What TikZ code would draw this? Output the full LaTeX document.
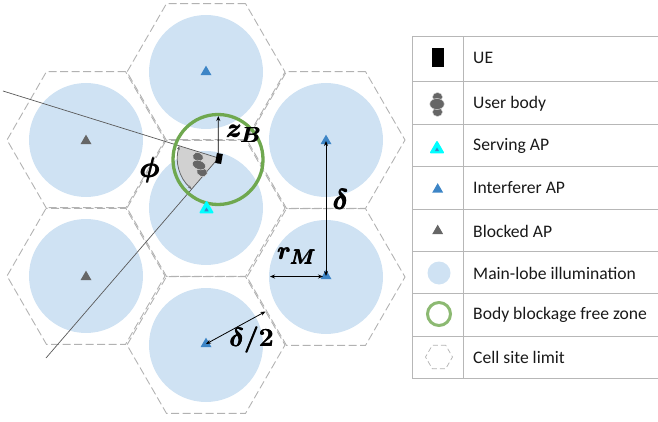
\documentclass[tikz,border=0pt]{standalone}
\usepackage{amsmath}
\usepackage{fontspec}
\setmainfont{Carlito}
\usetikzlibrary{shapes.geometric,arrows.meta,calc}
\definecolor{lobe}{HTML}{CFE2F3}
\definecolor{zone}{HTML}{6FA84F}
\definecolor{apblue}{HTML}{3D85C6}
\definecolor{apgray}{HTML}{666666}
\definecolor{legline}{HTML}{B7B7B7}
\definecolor{servecyan}{HTML}{00FFFF}
\tikzset{
 x=1pt,y=-1pt,
 cell/.style={regular polygon,regular polygon sides=6,minimum size=158pt,inner sep=0pt,outer sep=0pt,draw=black!30,line width=0.9pt,dash pattern=on 8pt off 3.5pt},
 lobedisc/.style={circle,fill=lobe,minimum size=114pt,inner sep=0pt,outer sep=0pt},
 tri/.style={regular polygon,regular polygon sides=3,inner sep=0pt,outer sep=0pt,minimum size=12.7pt},
 interf/.style={tri,fill=apblue},
 blocked/.style={tri,fill=apgray},
 serving/.style={tri,fill=servecyan,draw=servecyan,line width=1.8pt,line join=round,minimum size=14pt},
 servingcore/.style={tri,fill=apblue,minimum size=5pt},
 ue/.style={rectangle,fill=black,inner sep=0pt,outer sep=0pt},
 bodypart/.style={ellipse,fill=apgray,draw=black!15,line width=0.5pt,inner sep=0pt,outer sep=0pt},
 dim/.style={{Stealth[length=5pt,width=4pt]}-{Stealth[length=5pt,width=4pt]},line width=0.8pt,black},
 ray/.style={line width=0.7pt,black!65},
 legrule/.style={legline,line width=1pt},
 legtext/.style={anchor=west,font=\fontsize{17.6}{20}\selectfont,inner sep=0pt,text=black!90},
 mathlabel/.style={inner sep=0pt,font=\fontsize{24.88}{27}\selectfont},
}
\newcommand{\heavy}[2][1.12]{\scalebox{#1}{\pmb{$\boldsymbol{#2}$}}}
\begin{document}
\begin{tikzpicture}
\useasboundingbox (0,0) rectangle (658,422);
% cells
\foreach \n/\px/\py in {ca/206/345,cb/326/277,cc/326/140,cd/206/72,ce/206/208,cf/86/140,cg/86/276}{
  \node[lobedisc] (d\n) at (\px,\py) {};
}
\foreach \n/\px/\py in {ca/206/345,cb/326/277,cc/326/140,cd/206/72,ce/206/208,cf/86/140,cg/86/276}{
  \node[cell] (h\n) at (\px,\py) {};
}
% UE wedge
\coordinate (uept) at (218.5,158);
\coordinate (rayA) at (3,91);
\coordinate (rayB) at (46,358);
\fill[black!18] (uept) -- ($(uept)!41pt!(rayA)$) arc[start angle=197.3,end angle=130.8,radius=41] -- cycle;
\draw[black!60,line width=0.8pt,{Stealth[length=4pt,width=3pt]}-{Stealth[length=4pt,width=3pt]}] ($(uept)!41pt!(rayA)$) arc[start angle=197.3,end angle=130.8,radius=41];
\draw[ray] (rayA) -- (uept);
\draw[ray] (rayB) -- (uept);
% body
\node[bodypart,minimum width=11pt,minimum height=9pt,rotate=-20] (b1) at (198,157) {};
\node[bodypart,minimum width=11pt,minimum height=9pt,rotate=-20] (b2) at (202,172) {};
\node[bodypart,minimum width=14pt,minimum height=9pt,rotate=-20] (b3) at (199,165) {};
% UE
\node[ue,minimum width=6pt,minimum height=10pt,rotate=-10] (uenode) at (219,158.5) {};
% zone
\node[circle,draw=zone,line width=3.3pt,minimum size=90pt,inner sep=0pt] (zonec) at (218,159.5) {};
\coordinate (ztop) at (218.3,116);
\draw[-{Stealth[length=5pt,width=4pt]},line width=0.8pt] (uenode.south) -- (ztop);
% APs
\node[interf] (ap1) at (206,344) {};
\node[interf] (ap2) at (326,276) {};
\node[interf] (ap3) at (326,141) {};
\node[interf] (ap4) at (206,72) {};
\node[serving] (ap5) at (206.5,209) {};
\node[servingcore] at (206.5,210) {};
\node[blocked] (ap6) at (86,141) {};
\node[blocked] (ap7) at (86,277) {};
% dims
\coordinate (dl) at (270,276.5);
\coordinate (de) at (265.5,311.5);
\coordinate (dr) at (323,276.5);
\draw[dim] (ap3.center) -- (ap2.center);
\draw[dim] (dl) -- (dr);
\draw[dim] (ap1.center) -- (de);
% labels
\node[mathlabel] (lz) at (244,134) {\heavy[1.05]{z_{B}}};
\node[mathlabel] (lp) at (150,170) {\heavy{\phi}};
\node[mathlabel] (ld) at (341,199) {\heavy{\delta}};
\node[mathlabel] (lr) at (297,256) {\heavy[0.98]{r_{M}}};
\node[mathlabel] (ldh) at (252,340) {\heavy[1.05]{\delta/2}};
% legend
\draw[legrule] (412,37) rectangle (658,378);
\draw[legrule] (463,37) -- (463,378);
\foreach \yy in {82,125,167,209,251,293,336}{\draw[legrule] (412,\yy) -- (658,\yy);}
\node[ue,minimum width=12pt,minimum height=18.5pt] (lue) at (438,57.5) {};
\node[bodypart,minimum width=10pt,minimum height=9pt] (lb1) at (437.5,97) {};
\node[bodypart,minimum width=10pt,minimum height=9pt] (lb2) at (437.5,112) {};
\node[bodypart,minimum width=14.5pt,minimum height=11pt] (lb3) at (437,104) {};
\node[serving] (ls) at (437,149) {};
\node[servingcore] at (437,150) {};
\node[interf] (li) at (437.7,189.5) {};
\node[blocked] (lbk) at (437.7,231) {};
\node[circle,fill=lobe,minimum size=23pt,inner sep=0pt] (ll) at (439,273) {};
\node[circle,draw=zone!80,line width=3pt,minimum size=23pt,inner sep=0pt] (lz2) at (439,314) {};
\node[regular polygon,regular polygon sides=6,minimum size=27pt,inner sep=0pt,draw=black!30,line width=0.7pt,dash pattern=on 5pt off 3pt] (lh) at (439,357) {};
\foreach \yy/\tt in {58/UE,104/User body,146/Serving AP,188/Interferer AP,231/Blocked AP,273/Main-lobe illumination,315/Body blockage free zone,357/Cell site limit}{
  \node[legtext] at (473,\yy) {\tt};
}
\end{tikzpicture}
\end{document}
